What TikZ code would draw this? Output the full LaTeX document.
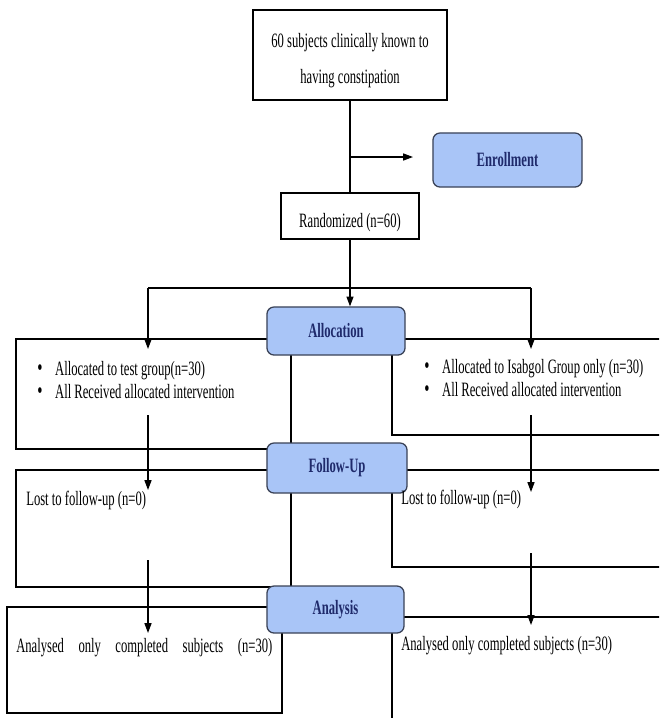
\documentclass[tikz,border=0pt]{standalone}
\usepackage{fontspec}
\setmainfont{Liberation Serif}[FakeStretch=0.62]
\usepackage{xcolor}
\usetikzlibrary{arrows.meta}

\definecolor{stagefill}{HTML}{A9C5F7}
\definecolor{stagetext}{HTML}{1F2A6B}
\definecolor{stageline}{HTML}{3A4256}

\tikzset{
  stage/.style={draw=stageline, line width=0.9pt, fill=stagefill, rounded corners=5pt,
    text=stagetext, font=\fontsize{14.5}{13}\selectfont\bfseries},
  plainbox/.style={draw, line width=0.9pt, fill=white, align=center},
  panel/.style={draw, line width=0.9pt, fill=white},
  line/.style={line width=0.9pt},
  arr/.style={line width=0.9pt, -{Triangle[length=7pt,width=5pt]}},
  txt/.style={inner sep=0pt, anchor=base west},
}

\newcommand{\bul}{\smash{\fontsize{17}{12.8}\selectfont\textbullet}\hspace{9pt}}

\begin{document}
\begin{tikzpicture}[x=0.025cm, y=-0.025cm, font=\fontsize{14.5}{12.8}\selectfont]
        \clip (0,0) rectangle (659,718);
        % side panels
        \draw[panel] (16,339) rectangle (291,449);
        \draw[panel] (392,339) rectangle (700,435);
        \draw[panel] (16,470) rectangle (291,587);
        \draw[panel] (392,470) rectangle (700,567);
        \draw[panel] (7,607) rectangle (282,713);
        \draw[panel] (392,617) rectangle (700,760);
        % boxes
        \node[plainbox, minimum width=4.85cm, minimum height=2.25cm] (subj) at (350,55)
          {\rule{0pt}{18pt}60 subjects clinically known to\\[12pt] having constipation};
        \node[plainbox, minimum width=3.45cm, minimum height=1.15cm, text height=20pt, text depth=3.5pt] (rand) at (350,216) {Randomized (n=60)};
        \node[stage, minimum width=3.725cm, minimum height=1.35cm] (enroll) at (507.5,160) {Enrollment};
        \node[stage, minimum width=3.45cm, minimum height=1.2cm] (alloc) at (336,331) {Allocation};
        \node[stage, minimum width=3.5cm, minimum height=1.25cm] (follow) at (337,468) {Follow-Up};
        \node[stage, minimum width=3.425cm, minimum height=1.175cm] (analysis) at (335.5,609.5) {Analysis};
        % panel texts
        \node[txt] (testgrp) at (37,375) {\bul Allocated to test group(n=30)};
        \node[txt] (testrec) at (37,398) {\bul All Received allocated intervention};
        \node[txt] (isabgrp) at (424,373) {\bul Allocated to Isabgol Group only (n=30)};
        \node[txt] (isabrec) at (424,396) {\bul All Received allocated intervention};
        \node[txt] (lostL) at (26,505) {Lost to follow-up (n=0)};
        \node[txt] (lostR) at (401,504) {Lost to follow-up (n=0)};
        \node[txt] (anaL) at (16,652) {\makebox[6.4cm][s]{Analysed only completed subjects (n=30)}};
        \node[txt] (anaR) at (401,650) {Analysed only completed subjects (n=30)};
        % connectors
        \coordinate (enr) at (350,157);
        \coordinate (enrtip) at (413,157);
        \coordinate (split) at (350,288);
        \coordinate (splitL) at (148,288);
        \coordinate (splitR) at (531,288);
        \coordinate (tipL) at (148,349);
        \coordinate (tipR) at (531,349);
        \coordinate (a1) at (148,415);
        \coordinate (a2) at (531,415);
        \coordinate (a1tip) at (148,490);
        \coordinate (a2tip) at (531,492);
        \coordinate (f1) at (148,560);
        \coordinate (f2) at (531,553);
        \coordinate (f1tip) at (148,633);
        \coordinate (f2tip) at (531,625);
        \draw[line] (subj.south) -- (rand.north);
        \draw[arr] (enr) -- (enrtip);
        \draw[line] (rand.south) -- (split);
        \draw[line] (splitL) -- (splitR);
        \draw[arr] (split) -- (split |- alloc.north);
        \draw[arr] (splitL) -- (tipL);
        \draw[arr] (splitR) -- (tipR);
        \draw[arr] (a1) -- (a1tip);
        \draw[arr] (a2) -- (a2tip);
        \draw[arr] (f1) -- (f1tip);
        \draw[arr] (f2) -- (f2tip);
\end{tikzpicture}
\end{document}
